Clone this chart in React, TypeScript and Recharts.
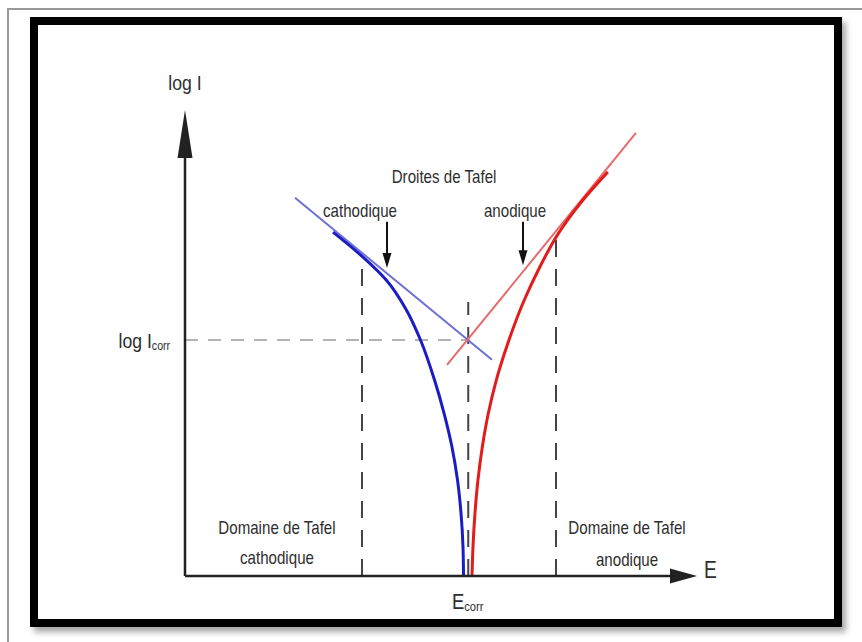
import { LineChart, Line, XAxis, YAxis, ReferenceLine, ReferenceDot } from 'recharts';

// Diagram units: E on [0, 10], log I on [0, 10]
const E_CORR = 5.5;
const LOG_I_CORR = 5.01;

const cathodicE = [2.874, 3.456, 3.903, 4.299, 4.573, 4.845, 5.029, 5.184, 5.291, 5.359, 5.398, 5.408];
const cathodicLogI = [7.3, 6.77, 6.29, 5.65, 5.01, 4.16, 3.46, 2.74, 2.04, 1.34, 0.62, 0];

const anodicE = [5.573, 5.592, 5.631, 5.689, 5.773, 5.891, 6.045, 6.256, 6.588, 6.88, 7.254, 7.68, 8.21];
const anodicLogI = [0, 0.62, 1.34, 2.04, 2.74, 3.46, 4.16, 4.9, 5.86, 6.54, 7.28, 7.92, 8.58];

const tafelCathE = [2.136, 5.961];
const tafelCathLogI = [8.03, 4.59];
const tafelAnE = [5.087, 8.757];
const tafelAnLogI = [4.48, 9.41];

// Tafel domain limits [E, top of dashed line]
const domainLimits = [
  [3.437, 6.82],
  [E_CORR, 5.82],
  [7.204, 7.3],
];

const FONT = '"Liberation Sans", Arial, sans-serif';
const TEXT = '#2e2e2e';

const toPoints = (xs: number[], ys: number[]) => xs.map((E, i) => ({ E, logI: ys[i] }));

const cathodic = toPoints(cathodicE, cathodicLogI);
const anodic = toPoints(anodicE, anodicLogI);
const tafelCath = toPoints(tafelCathE, tafelCathLogI);
const tafelAn = toPoints(tafelAnE, tafelAnLogI);

function arrowShape(head: number, half: number, width: number, color: string) {
  return (p: any) => {
    const { x1, y1, x2, y2 } = p;
    const dx = x2 - x1;
    const dy = y2 - y1;
    const len = Math.hypot(dx, dy) || 1;
    const ux = dx / len;
    const uy = dy / len;
    const bx = x2 - ux * head;
    const by = y2 - uy * head;
    const pts = `${x2},${y2} ${bx - uy * half},${by + ux * half} ${bx + uy * half},${by - ux * half}`;
    return (
      <g>
        <line x1={x1} y1={y1} x2={bx + ux * 2} y2={by + uy * 2} stroke={color} strokeWidth={width} />
        <polygon points={pts} fill={color} />
      </g>
    );
  };
}

// narrow text, squeezed horizontally like Arial Narrow
function note(text: string, size: number, anchor: 'start' | 'middle' | 'end' = 'middle', sub?: string) {
  return (p: any) => (
    <g transform={`translate(${p.cx},${p.cy}) scale(0.84,1)`}>
      <text
        x={0}
        y={0}
        textAnchor={anchor}
        dominantBaseline="central"
        fontFamily={FONT}
        fontSize={size}
        fill={TEXT}
      >
        {text}
        {sub && (
          <tspan fontSize={size * 0.6} dy={size * 0.2}>
            {sub}
          </tspan>
        )}
      </text>
    </g>
  );
}

const labels: [string, number, number, number, 'start' | 'middle' | 'end', string?][] = [
  ['log I', 0, 10.47, 21, 'middle'],
  ['log I', -0.29, LOG_I_CORR, 21, 'end', 'corr'],
  ['Droites de Tafel', 5.03, 8.47, 18, 'middle'],
  ['cathodique', 3.398, 7.75, 18, 'middle'],
  ['anodique', 6.408, 7.75, 18, 'middle'],
  ['Domaine de Tafel', 1.786, 1.02, 18, 'middle'],
  ['cathodique', 1.786, 0.38, 18, 'middle'],
  ['Domaine de Tafel', 8.583, 1.02, 18, 'middle'],
  ['anodique', 8.583, 0.34, 18, 'middle'],
  ['E', 10.08, 0.13, 23, 'start'],
  ['E', 5.184, -0.55, 22, 'start', 'corr'],
];

export default function App() {
  return (
    <div style={{ position: 'absolute', left: 0, top: 0, width: 862, height: 642, background: '#fff' }}>
      <div style={{ position: 'absolute', left: 7, top: 8, right: 0, bottom: 0, borderTop: '2px solid #999', borderLeft: '2px solid #999' }} />
      <div
        style={{
          position: 'absolute',
          left: 30,
          top: 17,
          width: 812,
          height: 610,
          boxSizing: 'border-box',
          border: '8px solid #000',
          boxShadow: '4px 5px 6px rgba(0,0,0,0.35)',
          background: '#fff',
        }}
      />
      <div style={{ position: 'absolute', left: 0, top: 0 }}>
        <LineChart width={862} height={642} margin={{ top: 105, right: 162, bottom: 66, left: 185 }}>
          <XAxis type="number" dataKey="E" domain={[0, 10]} hide />
          <YAxis type="number" dataKey="logI" domain={[0, 10]} hide />

          <ReferenceLine
            segment={[{ x: 0, y: LOG_I_CORR }, { x: E_CORR, y: LOG_I_CORR }]}
            stroke="#9a9a9a"
            strokeWidth={1.5}
            strokeDasharray="13 10"
            ifOverflow="visible"
          />
          {domainLimits.map(([e, top], i) => (
            <ReferenceLine
              key={i}
              segment={[{ x: e, y: 0 }, { x: e, y: top }]}
              stroke="#444"
              strokeWidth={2}
              strokeDasharray="17 12"
              ifOverflow="visible"
            />
          ))}

          <Line data={tafelCath} dataKey="logI" type="linear" stroke="#6f6fd6" strokeWidth={2} dot={false} isAnimationActive={false} />
          <Line data={tafelAn} dataKey="logI" type="linear" stroke="#e86a6a" strokeWidth={2} dot={false} isAnimationActive={false} />
          <Line data={cathodic} dataKey="logI" type="monotoneY" stroke="#1c1cc4" strokeWidth={3} dot={false} isAnimationActive={false} />
          <Line data={anodic} dataKey="logI" type="monotoneY" stroke="#e21c1c" strokeWidth={3} dot={false} isAnimationActive={false} />

          <ReferenceLine
            segment={[{ x: 0, y: 0 }, { x: 0, y: 9.894 }]}
            stroke="#222"
            ifOverflow="visible"
            shape={arrowShape(48, 7.5, 2.5, '#222')}
          />
          <ReferenceLine
            segment={[{ x: 0, y: 0 }, { x: 9.942, y: 0 }]}
            stroke="#222"
            ifOverflow="visible"
            shape={arrowShape(27, 7.5, 2.5, '#222')}
          />
          <ReferenceLine
            segment={[{ x: 3.922, y: 7.52 }, { x: 3.922, y: 6.54 }]}
            stroke="#111"
            ifOverflow="visible"
            shape={arrowShape(15, 4.5, 2, '#111')}
          />
          <ReferenceLine
            segment={[{ x: 6.563, y: 7.52 }, { x: 6.563, y: 6.6 }]}
            stroke="#111"
            ifOverflow="visible"
            shape={arrowShape(15, 4.5, 2, '#111')}
          />

          {labels.map(([t, x, y, size, anchor, sub], i) => (
            <ReferenceDot key={`l${i}`} x={x} y={y} r={0} ifOverflow="visible" shape={note(t, size, anchor, sub)} />
          ))}
        </LineChart>
      </div>
    </div>
  );
}
